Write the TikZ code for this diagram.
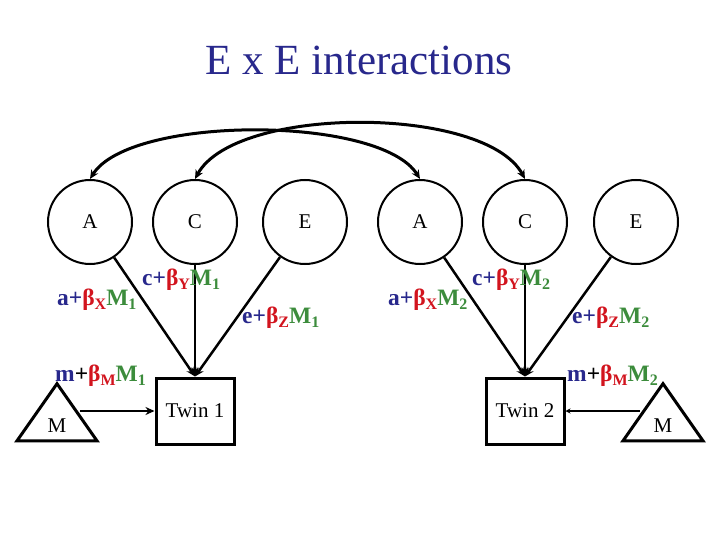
\documentclass[tikz,border=0pt]{standalone}
\usepackage{fontspec}
\setmainfont{Liberation Serif}
\usetikzlibrary{arrows.meta,shapes.geometric}
\definecolor{tblue}{RGB}{40,40,140}
\definecolor{tred}{RGB}{210,20,30}
\definecolor{tgreen}{RGB}{60,140,60}
\newcommand{\sbs}[1]{\raisebox{-0.3ex}{\fontsize{16}{16}\selectfont #1}}
\newcommand{\lab}[3]{\textbf{\textcolor{tblue}{#1+}\textcolor{tred}{β\sbs{#2}}\textcolor{tgreen}{M\sbs{#3}}}}
\newcommand{\labm}[3]{\textbf{\textcolor{tblue}{#1}+\textcolor{tred}{β\sbs{#2}}\textcolor{tgreen}{M\sbs{#3}}}}
\begin{document}
\begin{tikzpicture}[x=1pt,y=-1pt,
  lat/.style={circle,draw,line width=2pt,minimum size=84pt,inner sep=0pt,font=\fontsize{21}{21}\selectfont},
  obs/.style={rectangle,draw,line width=3pt,minimum width=78pt,minimum height=66pt,inner sep=0pt,font=\fontsize{21}{21}\selectfont},
  mod/.style={isosceles triangle,isosceles triangle apex angle=70,shape border rotate=90,draw,line width=3pt,minimum width=80pt,minimum height=55pt,inner sep=0pt},
  arr/.style={line width=2.5pt,-{Stealth[length=9pt,width=8pt]}},
  lbl/.style={anchor=west,font=\fontsize{23.5}{23.5}\selectfont,inner sep=0pt}]
\useasboundingbox (0,0) rectangle (720,540);
\node[font=\fontsize{43}{43}\selectfont,text=tblue] (t) at (359,60) {E x E interactions};
\node[lat] (A1) at (90,222) {A};
\node[lat] (C1) at (195,222) {C};
\node[lat] (E1) at (305,222) {E};
\node[lat] (A2) at (420,222) {A};
\node[lat] (C2) at (525,222) {C};
\node[lat] (E2) at (636,222) {E};
\node[obs] (T1) at (195,411) {Twin 1};
\node[obs] (T2) at (525,411) {Twin 2};
\node[mod] (M1) at (57,420) {};
\node[font=\fontsize{21}{21}\selectfont] (m1) at (57,426) {M};
\node[mod] (M2) at (663,420) {};
\node[font=\fontsize{21}{21}\selectfont] (m2) at (663,426) {M};
\draw[line width=3pt,{Stealth[length=9pt,width=8pt]}-{Stealth[length=9pt,width=8pt]}] (A1.north) .. controls (130,115) and (380,115) .. (A2.north);
\draw[line width=3pt,{Stealth[length=9pt,width=8pt]}-{Stealth[length=9pt,width=8pt]}] (C1.north) .. controls (235,105) and (485,105) .. (C2.north);
\draw[arr] (A1) -- (T1.north);
\draw[line width=1.5pt,-{Stealth[length=9pt,width=8pt]}] (C1) -- (T1.north);
\draw[arr] (E1) -- (T1.north);
\draw[arr] (A2) -- (T2.north);
\draw[line width=1.5pt,-{Stealth[length=9pt,width=8pt]}] (C2) -- (T2.north);
\draw[arr] (E2) -- (T2.north);
\draw[line width=2pt,-{Stealth[length=9pt,width=8pt]}] (80,411) -- (T1.west);
\draw[line width=2pt,-{Stealth[length=5pt,width=5pt]}] (640,411) -- (T2.east);
\node[lbl] (l1) at (57,300) {\lab{a}{X}{1}};
\node[lbl] (l2) at (142,280) {\lab{c}{Y}{1}};
\node[lbl] (l3) at (242,318) {\lab{e}{Z}{1}};
\node[lbl] (l4) at (55,376) {\labm{m}{M}{1}};
\node[lbl] (l5) at (388,300) {\lab{a}{X}{2}};
\node[lbl] (l6) at (472,280) {\lab{c}{Y}{2}};
\node[lbl] (l7) at (572,318) {\lab{e}{Z}{2}};
\node[lbl] (l8) at (567,376) {\labm{m}{M}{2}};
\end{tikzpicture}
\end{document}
